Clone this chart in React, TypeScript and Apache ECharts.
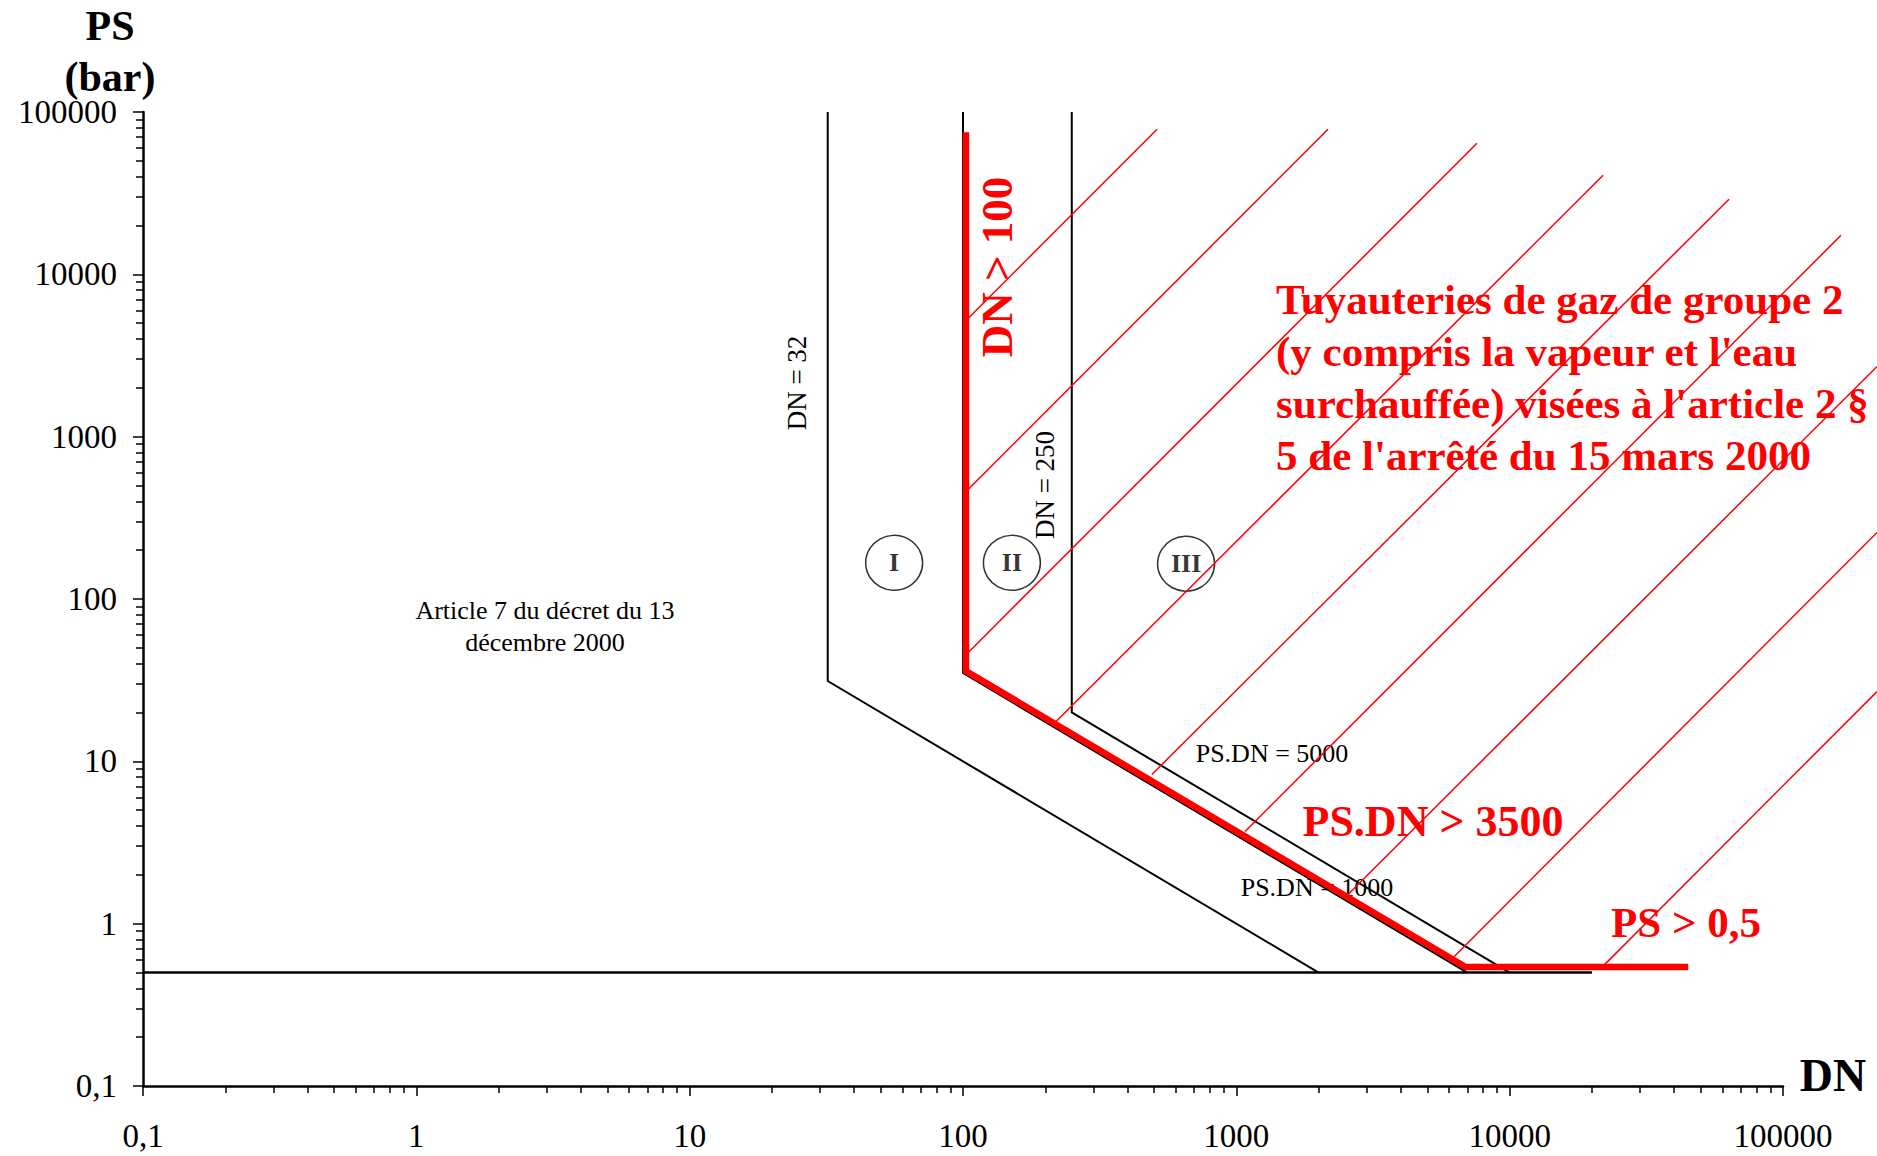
import React, { useEffect, useRef } from 'react';
import * as echarts from 'echarts';

const SERIF = '"Liberation Serif", "Times New Roman", Times, serif';
const RED = '#ff0000';

// Log axes: decades and their printed labels (French decimal comma)
const DECADES = [0.1, 1, 10, 100, 1000, 10000, 100000];
const DN_TICK_LABELS = ['0,1', '1', '10', '100', '1000', '10000', '100000'];
const PS_TICK_LABELS = ['0,1', '1', '10', '100', '1000', '10000', '100000'];
const MINOR_STEPS = [2, 3, 4, 5, 6, 7, 8, 9];
const MINOR_TICKS = DECADES.slice(0, -1).flatMap((d) =>
  MINOR_STEPS.map((s) => Number((d * s).toPrecision(6)))
);

// Category boundaries [DN, PS]
const CAT_I_BOUNDARY = [[32, 100000], [32, 31.25], [2000, 0.5]];
const CAT_II_BOUNDARY = [[100, 100000], [100, 35], [7000, 0.5]];
const CAT_III_BOUNDARY = [[250, 100000], [250, 20], [10000, 0.5]];
const PS_MIN_LINE = [[0.1, 0.5], [20000, 0.5]];

// Scope limit (DN > 100, PS.DN > 3500, PS > 0,5)
const SCOPE_LIMIT = [[102.5, 75000], [102.5, 36], [6900, 0.54], [45000, 0.54]];

// Hatching of the regulated zone: [DN start, PS start, DN end, PS end]
const HATCH_LINES = [
  [102.6, 5200, 513, 78300],
  [102.6, 459, 2164, 78300],
  [102.6, 45.4, 7590, 64200],
  [213, 16.8, 21970, 40760],
  [491, 8.3, 63460, 29000],
  [1076, 3.7, 163000, 17400],
  [2519, 1.47, 220800, 2709],
  [6103, 0.6, 220800, 257],
  [21780, 0.54, 220800, 26.9],
];

// Category markers
const ZONE_NAMES = ['I', 'II', 'III'];
const ZONE_DN = [56, 151, 655];
const ZONE_PS = [167, 167, 165];

const SCOPE_TEXT =
  "Tuyauteries de gaz de groupe 2\n(y compris la vapeur et l'eau\nsurchauffée) visées à l'article 2 §\n5 de l'arrêté du 15 mars 2000";

const decadeLabel = (labels: string[]) => (v: number) =>
  labels[Math.round(Math.log10(v)) + 1] ?? '';

function logAxis(labels: string[] | null, pos: string, major: boolean) {
  return {
    type: 'log',
    logBase: 10,
    min: 0.1,
    max: 100000,
    position: pos,
    splitLine: { show: false },
    minorTick: { show: false },
    axisLine: {
      show: major,
      onZero: false,
      lineStyle: { color: '#000', width: 2.5 },
    },
    axisTick: {
      show: true,
      inside: false,
      length: major ? 10 : 7,
      customValues: major ? DECADES : MINOR_TICKS,
      lineStyle: { color: '#000', width: 1.5 },
    },
    axisLabel: labels
      ? {
          show: true,
          formatter: decadeLabel(labels),
          fontSize: 33,
          fontFamily: SERIF,
          color: '#000',
          margin: pos === 'bottom' ? 33 : 26,
        }
      : { show: false },
  };
}

const lineSeries = (data: number[][], color: string, width: number, z: number) => ({
  type: 'line',
  data,
  symbol: 'none',
  showSymbol: false,
  clip: false,
  silent: true,
  z,
  lineStyle: { color, width, cap: 'butt', join: 'miter' },
  emphasis: { disabled: true },
});

// Straight hatch segments, free to run past the plot frame
const hatchSeries = {
  type: 'custom',
  silent: true,
  clip: false,
  z: 4,
  encode: { x: [0, 2], y: [1, 3] },
  data: HATCH_LINES,
  renderItem: (_params: any, api: any) => {
    const p1 = api.coord([api.value(0), api.value(1)]);
    const p2 = api.coord([api.value(2), api.value(3)]);
    return {
      type: 'line',
      shape: { x1: p1[0], y1: p1[1], x2: p2[0], y2: p2[1] },
      style: { stroke: RED, lineWidth: 1.5, fill: null },
    };
  },
};

const txt = (
  text: string,
  x: number,
  y: number,
  size: number,
  opts: Record<string, any> = {}
) => ({
  type: 'text',
  x,
  y,
  z: 1,
  rotation: opts.rotation ?? 0,
  silent: true,
  style: {
    text,
    fontSize: size,
    fontFamily: SERIF,
    fontWeight: opts.bold ? 'bold' : 'normal',
    fill: opts.color ?? '#000',
    align: opts.align ?? 'center',
    verticalAlign: 'middle',
    lineHeight: opts.lineHeight,
  },
});

export default function App() {
  const ref = useRef<HTMLDivElement>(null);

  useEffect(() => {
    const chart = echarts.init(ref.current!, null, { renderer: 'svg' });
    const option: any = {
      animation: false,
      backgroundColor: '#fff',
      textStyle: { fontFamily: SERIF },
      grid: {
        left: 143,
        right: 94,
        top: 112,
        bottom: 70,
        containLabel: false,
        outerBoundsMode: 'none',
      },
      xAxis: [logAxis(DN_TICK_LABELS, 'bottom', true), logAxis(null, 'bottom', false)],
      yAxis: [logAxis(PS_TICK_LABELS, 'left', true), logAxis(null, 'left', false)],
      series: [
        lineSeries(PS_MIN_LINE, '#000', 2.5, 3),
        lineSeries(CAT_I_BOUNDARY, '#000', 2, 3),
        lineSeries(CAT_II_BOUNDARY, '#000', 2, 3),
        lineSeries(CAT_III_BOUNDARY, '#000', 2, 3),
        hatchSeries,
        lineSeries(SCOPE_LIMIT, RED, 6.5, 5),
        {
          type: 'scatter',
          silent: true,
          z: 2,
          symbol: 'circle',
          symbolSize: [57, 55],
          itemStyle: { color: 'rgba(0,0,0,0)', borderColor: '#000', borderWidth: 1.5 },
          label: {
            show: true,
            position: 'inside',
            formatter: '{b}',
            fontSize: 26,
            fontWeight: 'bold',
            fontFamily: SERIF,
            color: '#000',
          },
          data: ZONE_NAMES.map((name, i) => ({ name, value: [ZONE_DN[i], ZONE_PS[i]] })),
        },
      ],
      graphic: [
        txt('PS', 110, 26, 42, { bold: true }),
        txt('(bar)', 110, 77, 42, { bold: true }),
        txt('DN', 1833, 1075, 46, { bold: true }),
        txt('DN = 32', 797, 383, 27, { rotation: Math.PI / 2 }),
        txt('DN = 250', 1045, 485, 27, { rotation: Math.PI / 2 }),
        txt('DN > 100', 997, 267, 45, { rotation: Math.PI / 2, bold: true, color: RED }),
        txt('Article 7 du décret du 13\ndécembre 2000', 545, 626, 26, { lineHeight: 32 }),
        txt('PS.DN = 5000', 1272, 753, 26),
        txt('PS.DN = 1000', 1317, 887, 26),
        txt('PS.DN > 3500', 1433, 821, 44, { bold: true, color: RED }),
        txt('PS > 0,5', 1686, 922, 43, { bold: true, color: RED }),
        txt(SCOPE_TEXT, 1276, 377, 43, { bold: true, color: RED, align: 'left', lineHeight: 52 }),
      ],
    };
    chart.setOption(option);
    return () => chart.dispose();
  }, []);

  return (
    <div
      ref={ref}
      style={{ position: 'absolute', left: 0, top: 0, width: 1877, height: 1156, background: '#fff' }}
    />
  );
}
